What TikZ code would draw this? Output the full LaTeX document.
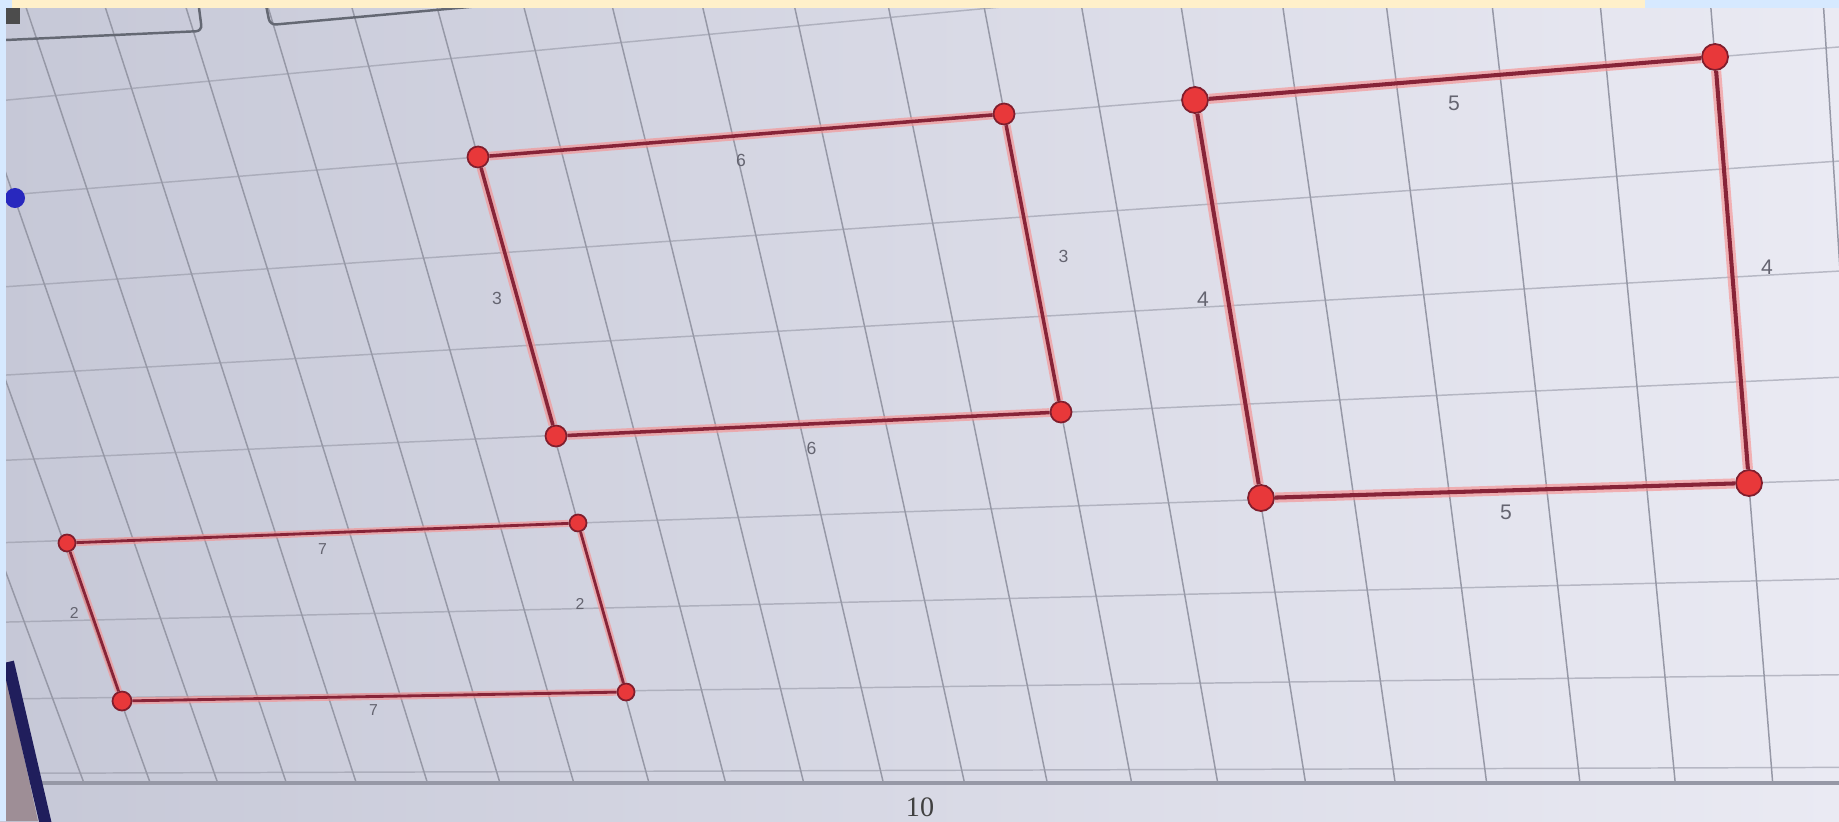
\documentclass[tikz,border=0pt]{standalone}
\usepackage{fontspec}
\usepackage{tikz}
\newfontfamily\labfont{Liberation Sans}
\newfontfamily\pagefont{Liberation Serif}

\definecolor{screenL}{RGB}{198,200,215}
\definecolor{screenR}{RGB}{234,234,243}
\definecolor{gridgray}{RGB}{150,152,166}
\definecolor{edgecore}{RGB}{135,36,56}
\definecolor{edgeglow}{RGB}{246,146,146}
\definecolor{dotfill}{RGB}{232,56,58}
\definecolor{dotdraw}{RGB}{128,30,45}
\definecolor{labgray}{RGB}{100,100,112}
\definecolor{frameblue}{RGB}{214,233,255}
\definecolor{frameyellow}{RGB}{255,240,202}
\definecolor{bezel}{RGB}{32,30,92}
\definecolor{casebrown}{RGB}{158,142,150}
\definecolor{dotblue}{RGB}{40,40,190}
\definecolor{btngray}{RGB}{100,104,115}

% grid point (u,v) of the photographed sheet -> picture coordinates \gx,\gy
\newcommand{\gridpt}[2]{%
  \pgfmathsetmacro\gw{1-0.010398*(#1)+0.015072*(#2)}%
  \pgfmathsetmacro\gx{(478+77.32*(#1)+33.71*(#2))/\gw}%
  \pgfmathsetmacro\gy{(157-8.285*(#1)+99.38*(#2))/\gw}%
}

\tikzset{
  vtx/.style={circle, draw=dotdraw, fill=dotfill, line width=0.5pt, inner sep=0pt, minimum size=#1},
  side/.style={draw=edgecore, line width=#1, preaction={draw=edgeglow, opacity=0.65, line width=2.5*#1}},
  lab/.style={text=labgray, font=\labfont\fontsize{#1}{#1}\selectfont, inner sep=0pt},
  gridline/.style={draw=gridgray, line width=0.42pt}
}

\begin{document}
\begin{tikzpicture}[x=0.01cm, y=-0.01cm]
	\useasboundingbox (0,0) rectangle (1839,821);
	\shade[left color=screenL, right color=screenR] (0,0) rectangle (1839,821);

	% sheet grid
	\begin{scope}
		\clip (6,8) rectangle (1839,783);
		\foreach \u in {-9,...,15}{
			\gridpt{\u}{-2} \let\xa\gx \let\ya\gy
			\gridpt{\u}{7.5}
			\draw[gridline] (\xa,\ya) -- (\gx,\gy);
		}
		\foreach \v in {-1,...,7}{
			\gridpt{-12}{\v} \let\xa\gx \let\ya\gy
			\gridpt{16}{\v}
			\draw[gridline, opacity=0.6] (\xa,\ya) -- (\gx,\gy);
		}
	\end{scope}
	\draw[gridgray, line width=0.9pt] (6,783) -- (1839,783);

	% screen edge
	\fill[casebrown] (6,675) -- (38,821) -- (6,821) -- cycle;
	\draw[bezel, line width=0.12cm] (8,662) -- (46,825);
	\fill[dotblue] (15,198) circle [radius=0.1cm];

	% toolbar buttons
	\fill[black!70] (6,8) rectangle (20,24);
	\draw[btngray, line width=0.7pt, rounded corners=0.06cm] (6,40) -- (202,31) -- (198,0);
	\draw[btngray, line width=0.7pt, rounded corners=0.06cm] (265,0) -- (270,25) -- (480,6);

	% slide frame
	\fill[frameblue] (0,0) rectangle (6,821);
	\fill[frameblue] (0,0) rectangle (1839,8);
	\fill[frameyellow] (12,0) rectangle (1645,8);

	% small parallelogram
	\node[vtx=0.17cm] (s1) at (67,543) {};
	\node[vtx=0.17cm] (s2) at (578,523) {};
	\node[vtx=0.17cm] (s3) at (626,692) {};
	\node[vtx=0.19cm] (s4) at (122,701) {};

	\draw[side=0.8pt] (s1) -- (s2) node[midway, lab=4.5, shift={(0,16)}]		{7};
	\draw[side=0.8pt] (s2) -- (s3) node[midway, lab=4.5, shift={(-22,-4)}]	{2};
	\draw[side=0.8pt] (s3) -- (s4) node[midway, lab=4.5, shift={(-1,14)}]		{7};
	\draw[side=0.8pt] (s4) -- (s1) node[midway, lab=4.5, shift={(-20,-9)}]	{2};

	% middle parallelogram
	\node[vtx=0.21cm] (m1) at (478,157) {};
	\node[vtx=0.21cm] (m2) at (1004,114) {};
	\node[vtx=0.21cm] (m3) at (1061,412) {};
	\node[vtx=0.21cm] (m4) at (556,436) {};

	\draw[side=1pt] (m1) -- (m2) node[midway, lab=5, shift={(0,25)}]		{6};
	\draw[side=1pt] (m2) -- (m3) node[midway, lab=5, shift={(31,-7)}]		{3};
	\draw[side=1pt] (m3) -- (m4) node[midway, lab=5, shift={(3,24)}]		{6};
	\draw[side=1pt] (m4) -- (m1) node[midway, lab=5, shift={(-20,2)}]		{3};

	% right parallelogram
	\node[vtx=0.26cm] (r1) at (1195,100) {};
	\node[vtx=0.26cm] (r2) at (1715,57) {};
	\node[vtx=0.26cm] (r3) at (1749,483) {};
	\node[vtx=0.26cm] (r4) at (1261,498) {};

	\draw[side=1.15pt] (r1) -- (r2) node[midway, lab=6, shift={(-1,25)}]	{5};
	\draw[side=1.15pt] (r2) -- (r3) node[midway, lab=6, shift={(35,-3)}]	{4};
	\draw[side=1.15pt] (r3) -- (r4) node[midway, lab=6, shift={(1,22)}]		{5};
	\draw[side=1.15pt] (r4) -- (r1) node[midway, lab=6, shift={(-25,0)}]	{4};

	% slide number
	\node[font=\pagefont\fontsize{8}{8}\selectfont, text=black!75, inner sep=0pt, anchor=south] (pg) at (920,817) {10};
\end{tikzpicture}
\end{document}
